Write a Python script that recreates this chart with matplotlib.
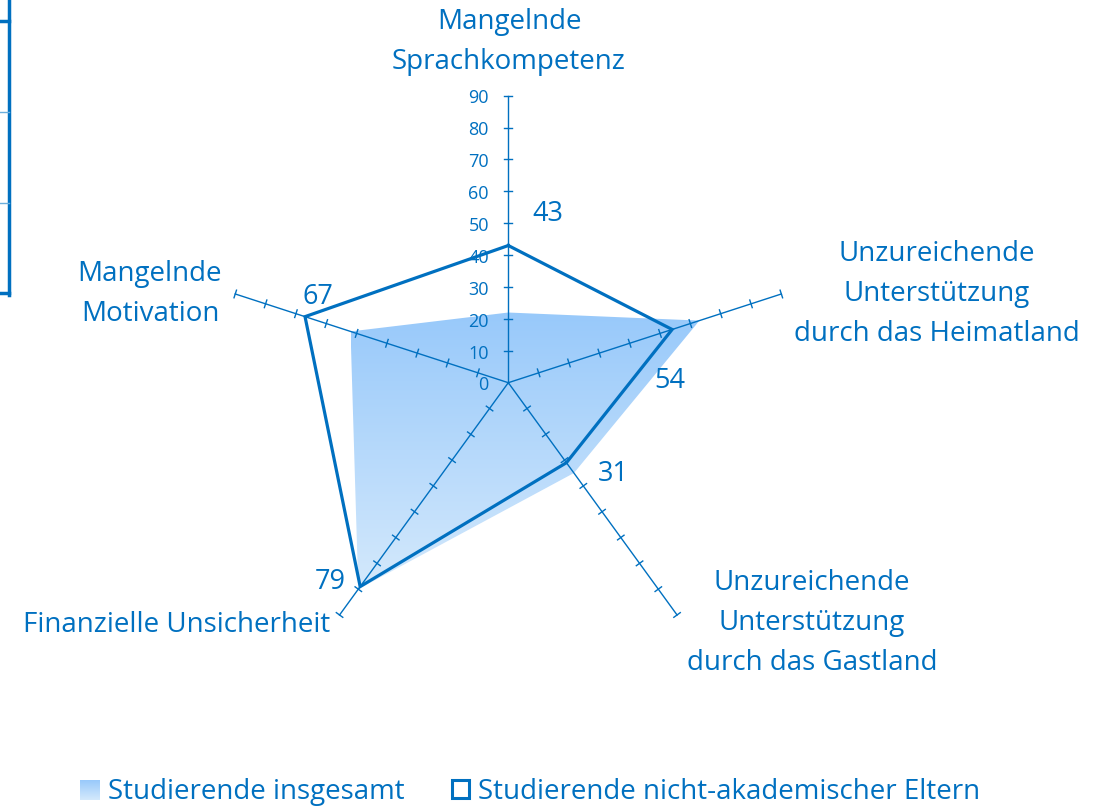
import numpy as np
import matplotlib.pyplot as plt
from matplotlib.patches import Polygon, Rectangle
from matplotlib.lines import Line2D

plt.rcParams['font.family'] = ['Open Sans', 'DejaVu Sans']

# --- data
categories = ["Mangelnde\nSprachkompetenz",
              "Unzureichende\nUnterstützung\ndurch das Heimatland",
              "Unzureichende\nUnterstützung\ndurch das Gastland",
              "Finanzielle Unsicherheit",
              "Mangelnde\nMotivation"]
insgesamt = [22, 63, 35, 80, 52]
nicht_akad = [43, 54, 31, 79, 67]
ticks = [0, 10, 20, 30, 40, 50, 60, 70, 80, 90]
series_names = ["Studierende insgesamt", "Studierende nicht-akademischer Eltern"]

BLUE = '#0070C0'
rmax = 90
angles = np.deg2rad(90 - 72 * np.arange(len(categories)))

def xy(vals):
    vals = np.asarray(vals, float)
    return vals * np.cos(angles), vals * np.sin(angles)

fig = plt.figure(figsize=(11, 8.06), dpi=100)
ax = fig.add_axes([0, 0, 1, 1])
scale = 3.19  # px per unit
cx, cy = 508.3, 806 - 382.7
ax.set_xlim(-cx / scale, (1100 - cx) / scale)
ax.set_ylim(-cy / scale, (806 - cy) / scale)
ax.axis('off')

# filled series with vertical gradient
px, py = xy(insgesamt)
poly = Polygon(np.column_stack([px, py]), closed=True, facecolor='none', edgecolor='none')
ax.add_patch(poly)
top_c = np.array([152, 201, 250]) / 255
bot_c = np.array([212, 233, 252]) / 255
t = np.linspace(0, 1, 256)[:, None]
grad = (top_c * (1 - t) + bot_c * t)[:, None, :]
im = ax.imshow(grad, extent=[px.min(), px.max(), py.min(), py.max()],
               origin='upper', aspect='auto', zorder=1)
im.set_clip_path(poly)

# axis lines with ticks
half = 1.25
for i, a in enumerate(angles):
    ax.plot([0, rmax * np.cos(a)], [0, rmax * np.sin(a)], color=BLUE, lw=1.0, zorder=2)
    nx, ny = -np.sin(a), np.cos(a)
    for tv in ticks[1:]:
        bx, by = tv * np.cos(a), tv * np.sin(a)
        ax.plot([bx - half * nx, bx + half * nx], [by - half * ny, by + half * ny],
                color=BLUE, lw=1.0, zorder=2)

# scale labels on the top axis
for tv in ticks:
    ax.annotate(str(tv), (0, tv), xytext=(-14, -2), textcoords='offset points',
                ha='right', va='center', fontsize=13, color=BLUE)

# outline series
qx, qy = xy(nicht_akad)
ax.plot(np.append(qx, qx[0]), np.append(qy, qy[0]), color=BLUE, lw=2.3,
        solid_joinstyle='miter', zorder=3)

# data labels of outline series
lab_off = [(28.6, 22.4), (-2, -37.2), (33.5, -8), (-21.7, 3), (9.4, 14)]
for x, y, v, (dx, dy) in zip(qx, qy, nicht_akad, lab_off):
    ax.annotate(str(v), (x, y), xytext=(dx, dy), textcoords='offset points',
                ha='center', va='center', fontsize=19.5, color=BLUE)

# category labels
cat_pos = [(509, 42, 'center'), (937, 294, 'center'), (812, 623, 'center'),
           (330, 625, 'right'), (150, 294, 'center')]
for name, (x, y, ha) in zip(categories, cat_pos):
    fig.text(x / 1100, 1 - y / 806, name, ha=ha, va='center', fontsize=20,
             color=BLUE, linespacing=1.55, transform=fig.transFigure)

# legend
lax = fig.add_axes([80 / 1100, 1 - 800 / 806, 20 / 1100, 20 / 806])
lax.imshow(grad, aspect='auto', extent=[0, 1, 0, 1])
lax.axis('off')
fig.text(108 / 1100, 1 - 792 / 806, series_names[0], ha='left', va='center',
         fontsize=20, color=BLUE)
fig.patches.append(Rectangle((452 / 1100, 1 - 798 / 806), 17 / 1100, 18 / 806,
                             transform=fig.transFigure, facecolor='white',
                             edgecolor=BLUE, lw=2.2))
fig.text(478 / 1100, 1 - 792 / 806, series_names[1], ha='left', va='center',
         fontsize=20, color=BLUE)

# cut-off frame at the top left
fig.lines.append(Line2D([8.7 / 1100, 8.7 / 1100], [1, 1 - 295 / 806],
                        transform=fig.transFigure, color=BLUE, lw=2.5))
for yy, w, c in [(21, 2.5, BLUE), (112, 1.0, '#6aaedc'), (203, 1.0, '#6aaedc'), (293, 2.5, BLUE)]:
    fig.lines.append(Line2D([0, 8.7 / 1100], [1 - yy / 806, 1 - yy / 806],
                            transform=fig.transFigure, color=c, lw=w))

fig.savefig('out.png', dpi=100)
